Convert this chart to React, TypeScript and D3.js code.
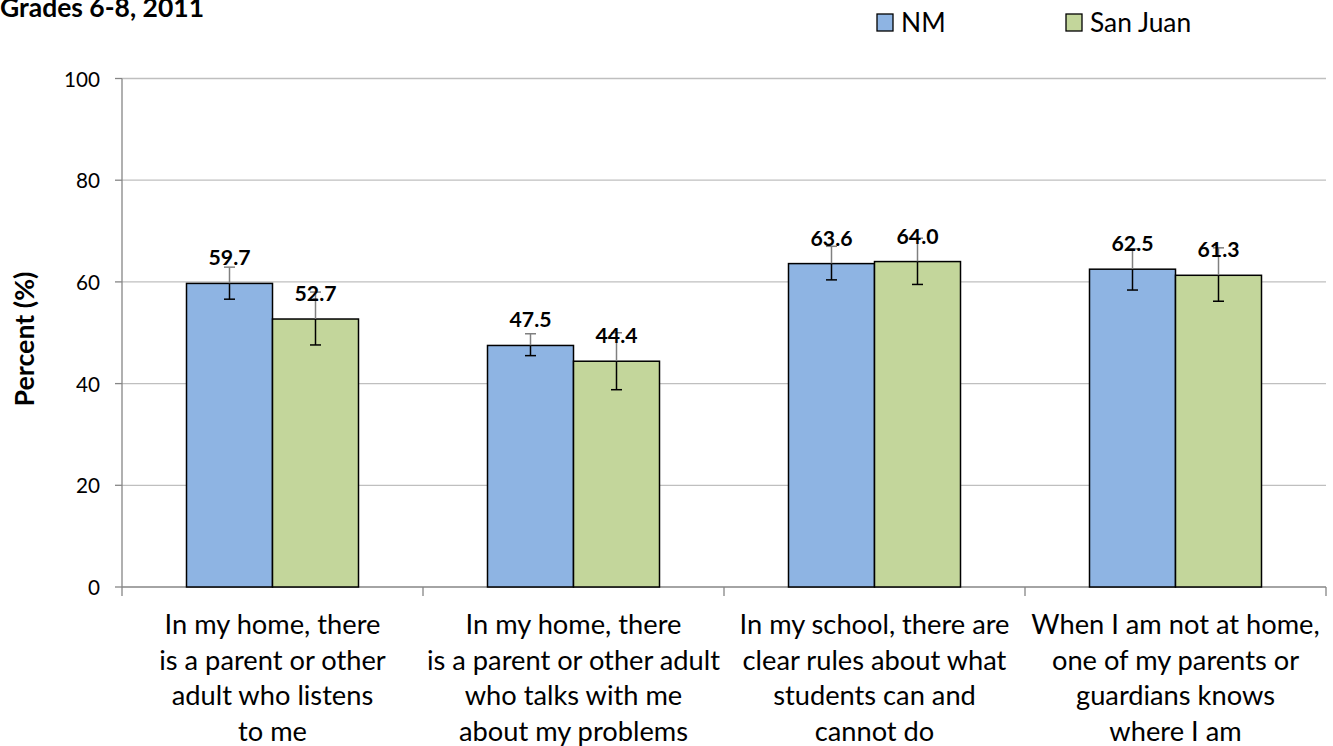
import React from "react";
import * as d3 from "d3";

const categories = [
  ["In my home, there", "is a parent or other", "adult who listens", "to me"],
  ["In my home, there", "is a parent or other adult", "who talks with me", "about my problems"],
  ["In my school, there are", "clear rules about what", "students can and", "cannot do"],
  ["When I am not at home,", "one of my parents or", "guardians knows", "where I am"],
];
const seriesNames = ["NM", "San Juan"];
const nmValues = [59.7, 47.5, 63.6, 62.5];
const nmLow = [56.6, 45.5, 60.4, 58.4];
const nmHigh = [62.9, 49.8, 67.0, 66.5];
const sjValues = [52.7, 44.4, 64.0, 61.3];
const sjLow = [47.6, 38.8, 59.5, 56.2];
const sjHigh = [58.0, 50.0, 68.6, 66.7];
const yTicks = [0, 20, 40, 60, 80, 100];
const colors = ["#8EB4E3", "#C3D69B"];

const W = 1333;
const H = 746;
const left = 122;
const right = 1326;
const top = 78.5;
const bottom = 587;
const FAMILY = "Lato";
const FONT = "Lato, 'Open Sans', sans-serif";

function fit(text: string, weight: string, target: number): number {
  if (typeof document === "undefined") return 20;
  const c = document.createElement("canvas").getContext("2d");
  if (!c) return 20;
  c.font = `${weight} 100px ${FAMILY}`;
  const w = c.measureText(text).width;
  return w > 0 ? (100 * target) / w : 20;
}

export default function App() {
  const sizes = React.useMemo(
    () => ({
      title: fit("Grades 6-8, 2011", "bold", 204),
      legend: fit("San Juan", "normal", 102),
      value: fit("59.7", "bold", 42),
      tick: fit("100", "normal", 36),
      cat: fit("is a parent or other", "normal", 227),
      ytitle: fit("Percent (%)", "bold", 135),
    }),
    []
  );
  const y = d3.scaleLinear().domain([0, 100]).range([bottom, top]);
  const x0 = d3.scaleBand<number>().domain([0, 1, 2, 3]).range([left, right]).paddingInner(0).paddingOuter(0);
  const inner = d3.scaleBand<number>().domain([0, 1]).range([0, 172]);
  const groupOffset = (x0.bandwidth() - 172) / 2;
  const series = [
    { vals: nmValues, lo: nmLow, hi: nmHigh },
    { vals: sjValues, lo: sjLow, hi: sjHigh },
  ];
  const boundaries = d3.range(5).map((i) => left + i * x0.bandwidth());

  return (
    <svg width={W} height={H} style={{ position: "absolute", left: 0, top: 0, fontFamily: FONT }}>
      <rect width={W} height={H} fill="#fff" />
      <text x={0} y={16.5} fontWeight="bold" fontSize={sizes.title} fill="#000">Grades 6-8, 2011</text>
      {seriesNames.map((n, i) => {
        const lx = i === 0 ? 877 : 1066;
        return (
          <g key={n}>
            <rect x={lx} y={14} width={16} height={17} fill={colors[i]} stroke="#000" strokeWidth={1.3} />
            <text x={lx + 24} y={31.5} fontSize={sizes.legend} fill="#000">{n}</text>
          </g>
        );
      })}
      {yTicks.map((t) => (
        <g key={t}>
          {t > 0 && <line x1={left} x2={right} y1={y(t)} y2={y(t)} stroke="#BFBFBF" strokeWidth={1.3} />}
          <line x1={left - 7} x2={left} y1={y(t)} y2={y(t)} stroke="#868686" strokeWidth={1.3} />
          <text x={100} y={y(t) + 8} textAnchor="end" fontSize={sizes.tick} fill="#000">{t}</text>
        </g>
      ))}
      <line x1={left} x2={left} y1={top} y2={bottom} stroke="#868686" strokeWidth={1.3} />
      <line x1={left} x2={right} y1={bottom} y2={bottom} stroke="#868686" strokeWidth={1.3} />
      {boundaries.map((bx, i) => (
        <line key={i} x1={bx} x2={bx} y1={bottom} y2={bottom + 9} stroke="#868686" strokeWidth={1.3} />
      ))}
      <text transform={`translate(34,339) rotate(-90)`} textAnchor="middle" fontWeight="bold" fontSize={sizes.ytitle} fill="#000">Percent (%)</text>
      {categories.map((lines, ci) => {
        const gx = (x0(ci) as number) + groupOffset;
        return (
          <g key={ci}>
            {series.map((s, si) => {
              const bx = gx + (inner(si) as number);
              const bw = inner.bandwidth();
              const cx = bx + bw / 2;
              const v = s.vals[ci];
              return (
                <g key={si}>
                  <rect x={bx} y={y(v)} width={bw} height={bottom - y(v)} fill={colors[si]} stroke="#000" strokeWidth={1.5} />
                  <line x1={cx} x2={cx} y1={y(s.hi[ci])} y2={y(v)} stroke="#808080" strokeWidth={1.5} />
                  <line x1={cx - 5.5} x2={cx + 5.5} y1={y(s.hi[ci])} y2={y(s.hi[ci])} stroke="#808080" strokeWidth={1.5} />
                  <line x1={cx} x2={cx} y1={y(v)} y2={y(s.lo[ci])} stroke="#000" strokeWidth={1.5} />
                  <line x1={cx - 5.5} x2={cx + 5.5} y1={y(s.lo[ci])} y2={y(s.lo[ci])} stroke="#000" strokeWidth={1.5} />
                  <text x={cx} y={y(v) - 18} textAnchor="middle" fontWeight="bold" fontSize={sizes.value} fill="#000">{v.toFixed(1)}</text>
                </g>
              );
            })}
            {lines.map((ln, li) => (
              <text key={li} x={(x0(ci) as number) + x0.bandwidth() / 2} y={634 + li * 35.5} textAnchor="middle" fontSize={sizes.cat} fill="#000">{ln}</text>
            ))}
          </g>
        );
      })}
    </svg>
  );
}
